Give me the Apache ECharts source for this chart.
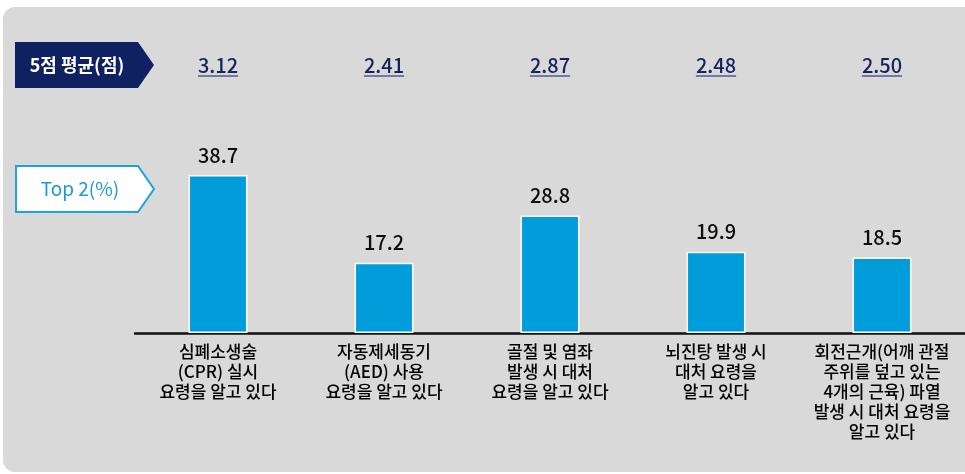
<!DOCTYPE html>
<html>
<head>
<meta charset="utf-8">
<script src="https://cdn.jsdelivr.net/npm/echarts@6/dist/echarts.min.js"></script>
<style>
  html, body { margin: 0; padding: 0; background: #ffffff; }
  #chart { width: 965px; height: 474px; }
</style>
</head>
<body>
<div id="chart"></div>
<script>
// Survey items (x-axis categories)
const categories = [
  '심폐소생술\n(CPR) 실시\n요령을 알고 있다',
  '자동제세동기\n(AED) 사용\n요령을 알고 있다',
  '골절 및 염좌\n발생 시 대처\n요령을 알고 있다',
  '뇌진탕 발생 시\n대처 요령을\n알고 있다',
  '회전근개(어깨 관절\n주위를 덮고 있는\n4개의 근육) 파열\n발생 시 대처 요령을\n알고 있다'
];
// Top 2 box share (%)
const top2Values = [38.7, 17.2, 28.8, 19.9, 18.5];
// 5-point scale mean scores
const avgValues = [3.12, 2.41, 2.87, 2.48, 2.50];

const FONT = "'Noto Sans CJK KR', 'Noto Sans', sans-serif";
const NAVY = '#0f2160';
const BLUE = '#009dda';

const measureCtx = document.createElement('canvas').getContext('2d');
function textWidth(txt, font) {
  measureCtx.font = font;
  return measureCtx.measureText(txt).width;
}

const chart = echarts.init(document.getElementById('chart'));

// Header tag shape: rectangle with a pointed right side
function tagPoints(x, y, w, h, tip) {
  return [[x, y], [x + w, y], [x + w + tip, y + h / 2], [x + w, y + h], [x, y + h]];
}

chart.setOption({
  backgroundColor: '#ffffff',
  animation: false,
  grid: { left: 135, width: 832, top: 129, bottom: 141 },
  xAxis: {
    type: 'category',
    data: categories,
    axisLine: { lineStyle: { color: '#111111', width: 2.5 } },
    axisTick: { show: false },
    axisLabel: {
      interval: 0,
      margin: 9,
      color: '#000000',
      fontFamily: FONT,
      fontWeight: 500,
      fontSize: 17,
      lineHeight: 20
    }
  },
  yAxis: {
    type: 'value',
    min: 0,
    max: 50,
    show: false,
    splitLine: { show: false }
  },
  graphic: [
    {
      type: 'rect',
      z: -10,
      silent: true,
      shape: { x: 3, y: 7, width: 980, height: 465, r: 12 },
      style: { fill: '#d9d9d9' }
    },
    {
      type: 'polygon',
      shape: { points: tagPoints(15, 42, 123, 46, 16) },
      style: { fill: NAVY }
    },
    {
      type: 'text',
      x: 77, y: 65,
      style: {
        text: '5점 평균(점)',
        fill: '#ffffff',
        font: 'bold 18px ' + FONT,
        align: 'center',
        verticalAlign: 'middle'
      }
    },
    {
      type: 'polygon',
      shape: { points: tagPoints(16, 166, 122, 46, 16) },
      style: { fill: '#ffffff', stroke: '#1ea3dd', lineWidth: 2 }
    },
    {
      type: 'text',
      x: 80, y: 189,
      style: {
        text: 'Top 2(%)',
        fill: '#1a9ad6',
        font: '19px ' + FONT,
        align: 'center',
        verticalAlign: 'middle'
      }
    }
  ],
  series: [
    {
      type: 'bar',
      data: top2Values,
      barWidth: '35.5%',
      itemStyle: { color: BLUE, borderColor: '#ffffff', borderWidth: 1.5 },
      label: {
        show: true,
        position: 'top',
        distance: 10,
        color: '#0d0d0d',
        fontFamily: FONT,
        fontWeight: 500,
        fontSize: 20,
        formatter: p => p.value.toFixed(1)
      }
    },
    {
      // Mean scores, underlined, aligned with each category column
      type: 'custom',
      data: avgValues.map((v, i) => [i, v]),
      renderItem: function (params, api) {
        const x = api.coord([api.value(0), 0])[0];
        const txt = api.value(1).toFixed(2);
        const font = '500 20px ' + FONT;
        const w = textWidth(txt, font);
        return {
          type: 'group',
          children: [
            {
              type: 'text',
              x: x, y: 65,
              style: {
                text: txt,
                fill: '#15225e',
                font: font,
                align: 'center',
                verticalAlign: 'middle'
              }
            },
            {
              type: 'line',
              shape: { x1: x - w / 2, y1: 76, x2: x + w / 2, y2: 76 },
              style: { stroke: '#4b5b8c', lineWidth: 1.5 }
            }
          ]
        };
      }
    }
  ]
});
</script>
</body>
</html>
